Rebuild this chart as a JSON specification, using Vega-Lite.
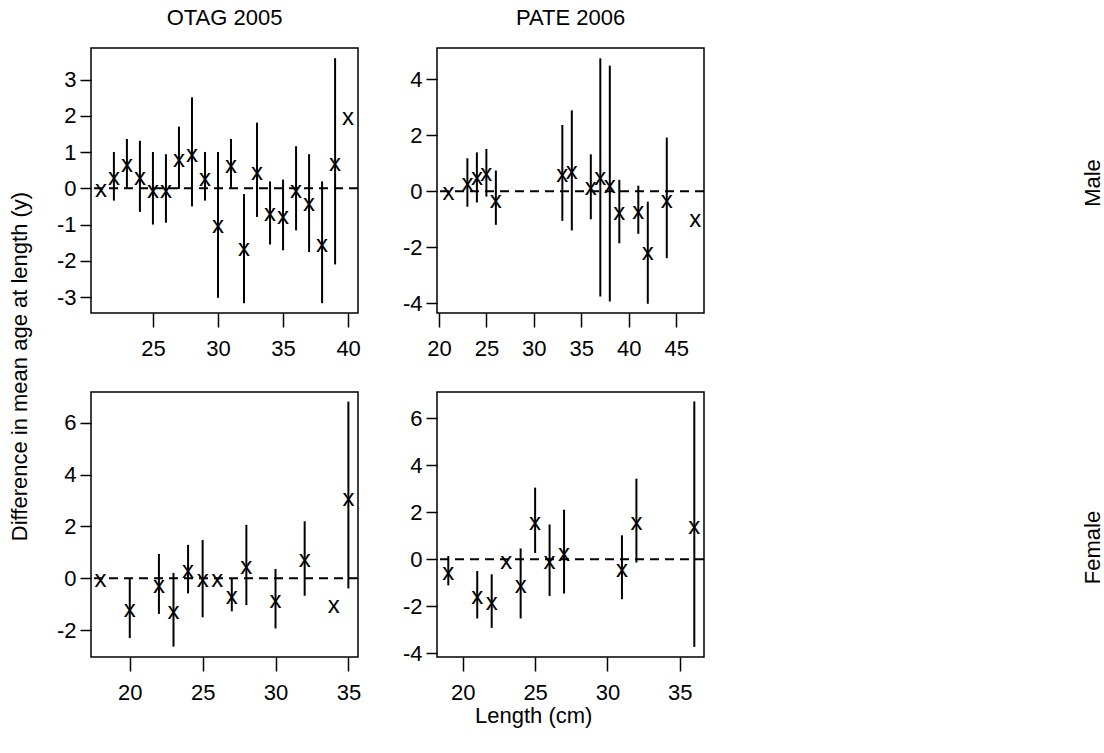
{
  "$schema": "https://vega.github.io/schema/vega-lite/v6.json",
  "background": "white",
  "padding": {"left": 8, "top": 6, "right": 5, "bottom": 5},
  "config": {
    "font": "Liberation Sans",
    "view": {"stroke": "black", "strokeWidth": 1.5},
    "axis": {"domain": false, "grid": false, "tickColor": "black", "tickWidth": 1.5, "labelColor": "black", "labelFont": "Liberation Sans", "labelFontSize": 22, "labelOverlap": false, "labelFlush": false, "title": null, "labelExpr": "toString(datum.value)"},
    "axisX": {"tickSize": 14, "labelPadding": 11},
    "axisY": {"tickSize": 11, "labelPadding": 4, "labelAngle": 0},
    "title": {"font": "Liberation Sans", "fontSize": 22, "fontWeight": "normal", "color": "black"}
  },
  "datasets": {
    "d": [
      {"site": "OTAG 2005", "sex": "Male", "length": 21, "diff": -0.08, "lo": null, "hi": null},
      {"site": "OTAG 2005", "sex": "Male", "length": 22, "diff": 0.27, "lo": -0.34, "hi": 1.00},
      {"site": "OTAG 2005", "sex": "Male", "length": 23, "diff": 0.61, "lo": -0.02, "hi": 1.36},
      {"site": "OTAG 2005", "sex": "Male", "length": 24, "diff": 0.27, "lo": -0.65, "hi": 1.31},
      {"site": "OTAG 2005", "sex": "Male", "length": 25, "diff": -0.11, "lo": -1.00, "hi": 1.00},
      {"site": "OTAG 2005", "sex": "Male", "length": 26, "diff": -0.11, "lo": -0.95, "hi": 0.94},
      {"site": "OTAG 2005", "sex": "Male", "length": 27, "diff": 0.76, "lo": -0.02, "hi": 1.70},
      {"site": "OTAG 2005", "sex": "Male", "length": 28, "diff": 0.89, "lo": -0.50, "hi": 2.51},
      {"site": "OTAG 2005", "sex": "Male", "length": 29, "diff": 0.23, "lo": -0.34, "hi": 1.00},
      {"site": "OTAG 2005", "sex": "Male", "length": 30, "diff": -1.07, "lo": -3.02, "hi": 1.00},
      {"site": "OTAG 2005", "sex": "Male", "length": 31, "diff": 0.60, "lo": -0.02, "hi": 1.36},
      {"site": "OTAG 2005", "sex": "Male", "length": 32, "diff": -1.71, "lo": -3.17, "hi": -0.16},
      {"site": "OTAG 2005", "sex": "Male", "length": 33, "diff": 0.39, "lo": -0.79, "hi": 1.81},
      {"site": "OTAG 2005", "sex": "Male", "length": 34, "diff": -0.74, "lo": -1.55, "hi": 0.19},
      {"site": "OTAG 2005", "sex": "Male", "length": 35, "diff": -0.82, "lo": -1.71, "hi": 0.24},
      {"site": "OTAG 2005", "sex": "Male", "length": 36, "diff": -0.10, "lo": -1.16, "hi": 1.16},
      {"site": "OTAG 2005", "sex": "Male", "length": 37, "diff": -0.47, "lo": -1.76, "hi": 0.94},
      {"site": "OTAG 2005", "sex": "Male", "length": 38, "diff": -1.58, "lo": -3.17, "hi": 0.19},
      {"site": "OTAG 2005", "sex": "Male", "length": 39, "diff": 0.63, "lo": -2.10, "hi": 3.59},
      {"site": "OTAG 2005", "sex": "Male", "length": 40, "diff": 1.91, "lo": null, "hi": null},
      {"site": "PATE 2006", "sex": "Male", "length": 21, "diff": -0.09, "lo": null, "hi": null},
      {"site": "PATE 2006", "sex": "Male", "length": 23, "diff": 0.23, "lo": -0.55, "hi": 1.18},
      {"site": "PATE 2006", "sex": "Male", "length": 24, "diff": 0.44, "lo": -0.40, "hi": 1.39},
      {"site": "PATE 2006", "sex": "Male", "length": 25, "diff": 0.59, "lo": -0.19, "hi": 1.51},
      {"site": "PATE 2006", "sex": "Male", "length": 26, "diff": -0.37, "lo": -1.20, "hi": 0.74},
      {"site": "PATE 2006", "sex": "Male", "length": 33, "diff": 0.56, "lo": -1.06, "hi": 2.37},
      {"site": "PATE 2006", "sex": "Male", "length": 34, "diff": 0.64, "lo": -1.40, "hi": 2.89},
      {"site": "PATE 2006", "sex": "Male", "length": 36, "diff": 0.09, "lo": -1.00, "hi": 1.32},
      {"site": "PATE 2006", "sex": "Male", "length": 37, "diff": 0.43, "lo": -3.76, "hi": 4.75},
      {"site": "PATE 2006", "sex": "Male", "length": 38, "diff": 0.17, "lo": -3.94, "hi": 4.49},
      {"site": "PATE 2006", "sex": "Male", "length": 39, "diff": -0.81, "lo": -1.86, "hi": 0.41},
      {"site": "PATE 2006", "sex": "Male", "length": 41, "diff": -0.76, "lo": -1.52, "hi": 0.20},
      {"site": "PATE 2006", "sex": "Male", "length": 42, "diff": -2.25, "lo": -4.02, "hi": -0.37},
      {"site": "PATE 2006", "sex": "Male", "length": 44, "diff": -0.39, "lo": -2.39, "hi": 1.92},
      {"site": "PATE 2006", "sex": "Male", "length": 47, "diff": -1.08, "lo": null, "hi": null},
      {"site": "OTAG 2005", "sex": "Female", "length": 18, "diff": -0.09, "lo": null, "hi": null},
      {"site": "OTAG 2005", "sex": "Female", "length": 20, "diff": -1.24, "lo": -2.30, "hi": 0.00},
      {"site": "OTAG 2005", "sex": "Female", "length": 22, "diff": -0.32, "lo": -1.37, "hi": 0.94},
      {"site": "OTAG 2005", "sex": "Female", "length": 23, "diff": -1.33, "lo": -2.63, "hi": 0.21},
      {"site": "OTAG 2005", "sex": "Female", "length": 24, "diff": 0.26, "lo": -0.58, "hi": 1.29},
      {"site": "OTAG 2005", "sex": "Female", "length": 25, "diff": -0.09, "lo": -1.50, "hi": 1.48},
      {"site": "OTAG 2005", "sex": "Female", "length": 26, "diff": -0.09, "lo": null, "hi": null},
      {"site": "OTAG 2005", "sex": "Female", "length": 27, "diff": -0.76, "lo": -1.27, "hi": 0.00},
      {"site": "OTAG 2005", "sex": "Female", "length": 28, "diff": 0.40, "lo": -1.03, "hi": 2.06},
      {"site": "OTAG 2005", "sex": "Female", "length": 30, "diff": -0.90, "lo": -1.93, "hi": 0.36},
      {"site": "OTAG 2005", "sex": "Female", "length": 32, "diff": 0.68, "lo": -0.67, "hi": 2.20},
      {"site": "OTAG 2005", "sex": "Female", "length": 34, "diff": -1.12, "lo": null, "hi": null},
      {"site": "OTAG 2005", "sex": "Female", "length": 35, "diff": 3.03, "lo": -0.39, "hi": 6.81},
      {"site": "PATE 2006", "sex": "Female", "length": 19, "diff": -0.61, "lo": -1.11, "hi": 0.14},
      {"site": "PATE 2006", "sex": "Female", "length": 21, "diff": -1.65, "lo": -2.52, "hi": -0.50},
      {"site": "PATE 2006", "sex": "Female", "length": 22, "diff": -1.89, "lo": -2.92, "hi": -0.64},
      {"site": "PATE 2006", "sex": "Female", "length": 23, "diff": -0.14, "lo": null, "hi": null},
      {"site": "PATE 2006", "sex": "Female", "length": 24, "diff": -1.18, "lo": -2.52, "hi": 0.46},
      {"site": "PATE 2006", "sex": "Female", "length": 25, "diff": 1.49, "lo": 0.27, "hi": 3.05},
      {"site": "PATE 2006", "sex": "Female", "length": 26, "diff": -0.16, "lo": -1.56, "hi": 1.48},
      {"site": "PATE 2006", "sex": "Female", "length": 27, "diff": 0.17, "lo": -1.46, "hi": 2.11},
      {"site": "PATE 2006", "sex": "Female", "length": 31, "diff": -0.50, "lo": -1.70, "hi": 1.02},
      {"site": "PATE 2006", "sex": "Female", "length": 32, "diff": 1.49, "lo": -0.14, "hi": 3.43},
      {"site": "PATE 2006", "sex": "Female", "length": 36, "diff": 1.35, "lo": -3.73, "hi": 6.72}
    ],
    "ref": [{"ref": 0}]
  },
  "data": {"name": "d"},
  "title": {"text": "Difference in mean age at length (y)", "orient": "left", "anchor": "middle", "offset": 24},
  "hconcat": [
    {
      "title": {"text": "Length (cm)", "orient": "bottom", "anchor": "middle", "offset": 2, "dx": -46},
      "spacing": 31,
      "vconcat": [
        {
          "title": {"text": "Male", "orient": "right", "anchor": "middle", "angle": -90, "offset": 355},
          "spacing": 39,
          "hconcat": [
            {
              "width": 267, "height": 265,
              "title": {"text": "OTAG 2005", "offset": 18},
              "transform": [{"filter": "datum.site === 'OTAG 2005' && datum.sex === 'Male'"}],
              "layer": [
                {"data": {"name": "ref"}, "mark": {"type": "rule", "strokeDash": [9, 6], "strokeWidth": 2, "color": "black"},
                 "encoding": {"y": {"field": "ref", "type": "quantitative", "scale": {"domain": [-3.44, 3.87], "nice": false, "zero": false}, "axis": {"values": [-3, -2, -1, 0, 1, 2, 3]}}}},
                {"transform": [{"filter": "datum.lo != null"}], "mark": {"type": "rule", "strokeWidth": 2, "color": "black"},
                 "encoding": {
                   "x": {"field": "length", "type": "quantitative", "scale": {"domain": [20.24, 40.76], "nice": false, "zero": false}, "axis": {"values": [25, 30, 35, 40]}},
                   "y": {"field": "lo", "type": "quantitative", "scale": {"domain": [-3.44, 3.87], "nice": false, "zero": false}, "axis": {"values": [-3, -2, -1, 0, 1, 2, 3]}},
                   "y2": {"field": "hi"}}},
                {"mark": {"type": "text", "text": "x", "fontSize": 24, "font": "Liberation Sans", "color": "black", "align": "center", "baseline": "middle", "dy": -1},
                 "encoding": {
                   "x": {"field": "length", "type": "quantitative", "scale": {"domain": [20.24, 40.76], "nice": false, "zero": false}, "axis": {"values": [25, 30, 35, 40]}},
                   "y": {"field": "diff", "type": "quantitative", "scale": {"domain": [-3.44, 3.87], "nice": false, "zero": false}, "axis": {"values": [-3, -2, -1, 0, 1, 2, 3]}}}}
              ]
            },
            {
              "width": 267, "height": 265,
              "title": {"text": "PATE 2006", "offset": 18},
              "transform": [{"filter": "datum.site === 'PATE 2006' && datum.sex === 'Male'"}],
              "layer": [
                {"data": {"name": "ref"}, "mark": {"type": "rule", "strokeDash": [9, 6], "strokeWidth": 2, "color": "black"},
                 "encoding": {"y": {"field": "ref", "type": "quantitative", "scale": {"domain": [-4.35, 5.12], "nice": false, "zero": false}, "axis": {"values": [-4, -2, 0, 2, 4]}}}},
                {"transform": [{"filter": "datum.lo != null"}], "mark": {"type": "rule", "strokeWidth": 2, "color": "black"},
                 "encoding": {
                   "x": {"field": "length", "type": "quantitative", "scale": {"domain": [19.8, 47.92], "nice": false, "zero": false}, "axis": {"values": [20, 25, 30, 35, 40, 45]}},
                   "y": {"field": "lo", "type": "quantitative", "scale": {"domain": [-4.35, 5.12], "nice": false, "zero": false}, "axis": {"values": [-4, -2, 0, 2, 4]}},
                   "y2": {"field": "hi"}}},
                {"mark": {"type": "text", "text": "x", "fontSize": 24, "font": "Liberation Sans", "color": "black", "align": "center", "baseline": "middle", "dy": -1},
                 "encoding": {
                   "x": {"field": "length", "type": "quantitative", "scale": {"domain": [19.8, 47.92], "nice": false, "zero": false}, "axis": {"values": [20, 25, 30, 35, 40, 45]}},
                   "y": {"field": "diff", "type": "quantitative", "scale": {"domain": [-4.35, 5.12], "nice": false, "zero": false}, "axis": {"values": [-4, -2, 0, 2, 4]}}}}
              ]
            }
          ]
        },
        {
          "title": {"text": "Female", "orient": "right", "anchor": "middle", "angle": -90, "offset": 355},
          "spacing": 39,
          "hconcat": [
            {
              "width": 267, "height": 265,
              "transform": [{"filter": "datum.site === 'OTAG 2005' && datum.sex === 'Female'"}],
              "layer": [
                {"data": {"name": "ref"}, "mark": {"type": "rule", "strokeDash": [9, 6], "strokeWidth": 2, "color": "black"},
                 "encoding": {"y": {"field": "ref", "type": "quantitative", "scale": {"domain": [-3.03, 7.18], "nice": false, "zero": false}, "axis": {"values": [-2, 0, 2, 4, 6]}}}},
                {"transform": [{"filter": "datum.lo != null"}], "mark": {"type": "rule", "strokeWidth": 2, "color": "black"},
                 "encoding": {
                   "x": {"field": "length", "type": "quantitative", "scale": {"domain": [17.34, 35.66], "nice": false, "zero": false}, "axis": {"values": [20, 25, 30, 35]}},
                   "y": {"field": "lo", "type": "quantitative", "scale": {"domain": [-3.03, 7.18], "nice": false, "zero": false}, "axis": {"values": [-2, 0, 2, 4, 6]}},
                   "y2": {"field": "hi"}}},
                {"mark": {"type": "text", "text": "x", "fontSize": 24, "font": "Liberation Sans", "color": "black", "align": "center", "baseline": "middle", "dy": -1},
                 "encoding": {
                   "x": {"field": "length", "type": "quantitative", "scale": {"domain": [17.34, 35.66], "nice": false, "zero": false}, "axis": {"values": [20, 25, 30, 35]}},
                   "y": {"field": "diff", "type": "quantitative", "scale": {"domain": [-3.03, 7.18], "nice": false, "zero": false}, "axis": {"values": [-2, 0, 2, 4, 6]}}}}
              ]
            },
            {
              "width": 267, "height": 265,
              "transform": [{"filter": "datum.site === 'PATE 2006' && datum.sex === 'Female'"}],
              "layer": [
                {"data": {"name": "ref"}, "mark": {"type": "rule", "strokeDash": [9, 6], "strokeWidth": 2, "color": "black"},
                 "encoding": {"y": {"field": "ref", "type": "quantitative", "scale": {"domain": [-4.16, 7.12], "nice": false, "zero": false}, "axis": {"values": [-4, -2, 0, 2, 4, 6]}}}},
                {"transform": [{"filter": "datum.lo != null"}], "mark": {"type": "rule", "strokeWidth": 2, "color": "black"},
                 "encoding": {
                   "x": {"field": "length", "type": "quantitative", "scale": {"domain": [18.22, 36.67], "nice": false, "zero": false}, "axis": {"values": [20, 25, 30, 35]}},
                   "y": {"field": "lo", "type": "quantitative", "scale": {"domain": [-4.16, 7.12], "nice": false, "zero": false}, "axis": {"values": [-4, -2, 0, 2, 4, 6]}},
                   "y2": {"field": "hi"}}},
                {"mark": {"type": "text", "text": "x", "fontSize": 24, "font": "Liberation Sans", "color": "black", "align": "center", "baseline": "middle", "dy": -1},
                 "encoding": {
                   "x": {"field": "length", "type": "quantitative", "scale": {"domain": [18.22, 36.67], "nice": false, "zero": false}, "axis": {"values": [20, 25, 30, 35]}},
                   "y": {"field": "diff", "type": "quantitative", "scale": {"domain": [-4.16, 7.12], "nice": false, "zero": false}, "axis": {"values": [-4, -2, 0, 2, 4, 6]}}}}
              ]
            }
          ]
        }
      ]
    }
  ]
}
